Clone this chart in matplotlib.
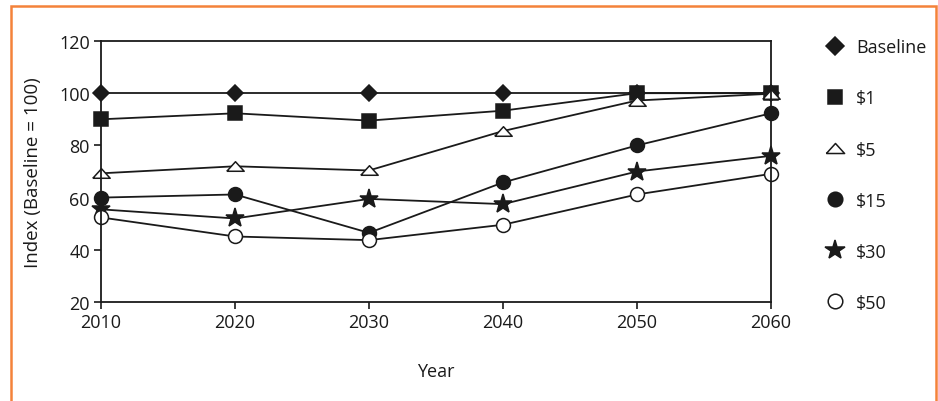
import matplotlib.pyplot as plt
from matplotlib.patches import Rectangle

years = [2010, 2020, 2030, 2040, 2050, 2060]
baseline = [100, 100, 100, 100, 100, 100]
tax_1 = [90, 92.3, 89.5, 93.3, 100, 100]
tax_5 = [69.3, 72, 70.4, 85.5, 97.2, 99.8]
tax_15 = [60, 61.2, 46.5, 65.8, 80, 92.3]
tax_30 = [55.5, 52, 59.5, 57.5, 70, 76]
tax_50 = [52.4, 45.1, 43.7, 49.6, 61.2, 69.1]

# wide, flat triangle like the original
flat_tri = [(-1, -0.55), (1, -0.55), (0, 0.55), (-1, -0.55)]

series = [
    ("Baseline", baseline, dict(marker="D", ms=8.5, mfc="#1a1a1a")),
    ("$1", tax_1, dict(marker="s", ms=9.5, mfc="#1a1a1a")),
    ("$5", tax_5, dict(marker=flat_tri, ms=12.5, mfc="white")),
    ("$15", tax_15, dict(marker="o", ms=10, mfc="#1a1a1a")),
    ("$30", tax_30, dict(marker="*", ms=14, mfc="#1a1a1a")),
    ("$50", tax_50, dict(marker="o", ms=10, mfc="white")),
]

plt.rcParams["font.family"] = ["Open Sans", "DejaVu Sans"]
ink = "#1a1a1a"
fs = 13

fig = plt.figure(figsize=(9.38, 4.02), dpi=100)
ax = fig.add_axes([101 / 938, 1 - 303 / 402, 670 / 938, 261 / 402])

for label, vals, style in series:
    ax.plot(years, vals, color=ink, lw=1.3, mec=ink, mew=1.1, label=label,
            clip_on=False, **style)

ax.set_xlim(2010, 2060)
ax.set_ylim(20, 120)
ax.set_xticks(years)
ax.set_yticks(range(20, 121, 20))
ax.tick_params(direction="out", length=5, width=1.2, color=ink, labelsize=fs,
               labelcolor=ink, pad=3)
for sp in ax.spines.values():
    sp.set_color(ink)
    sp.set_linewidth(1.3)

ax.set_ylabel("Index (Baseline = 100)", fontsize=13.5, color=ink, labelpad=12)
ax.set_xlabel("Year", fontsize=fs, color=ink, labelpad=22)

leg = ax.legend(loc="upper left", bbox_to_anchor=(1.06, 1.072), frameon=False,
                fontsize=fs, labelspacing=1.83, handlelength=0.8,
                handletextpad=0.8, markerscale=1.05)
for t in leg.get_texts():
    t.set_color(ink)
for h in leg.legend_handles:
    h.set_linestyle("none")

fig.patches.append(Rectangle((11 / 938, -0.05), 925 / 938, 1 - 7 / 402 + 0.05,
                             transform=fig.transFigure, fill=False,
                             edgecolor="#f4823a", lw=1.8))

fig.savefig("out.png", dpi=100)
